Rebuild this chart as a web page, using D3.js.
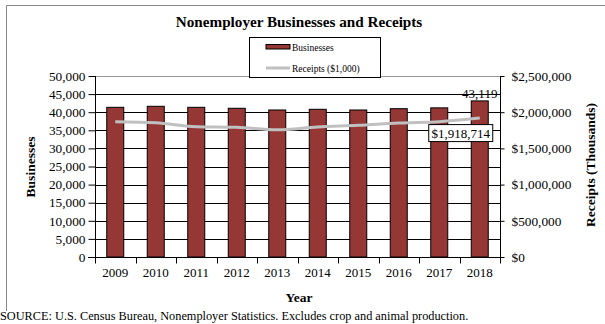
<!DOCTYPE html>
<html>
<head>
<meta charset="utf-8">
<script src="https://cdn.jsdelivr.net/npm/d3@7/dist/d3.min.js"></script>
<style>
  html, body { margin: 0; padding: 0; background: #fff; }
  svg { display: block; }
  text { font-family: "Liberation Serif", "Times New Roman", serif; fill: #000; }
</style>
</head>
<body>
<svg id="chart" width="605" height="324"></svg>
<script>
// Nonemployer businesses (count) and receipts ($1,000) by year
const years = ["2009", "2010", "2011", "2012", "2013", "2014", "2015", "2016", "2017", "2018"];
const businesses = [41350, 41630, 41350, 41080, 40610, 40800, 40610, 40970, 41200, 43119];
const receipts = [1868800, 1855000, 1800000, 1791000, 1758000, 1796000, 1819000, 1851000, 1869000, 1918714];
const businessTicks = [0, 5000, 10000, 15000, 20000, 25000, 30000, 35000, 40000, 45000, 50000];
const receiptTicks = [0, 500000, 1000000, 1500000, 2000000, 2500000];

const svg = d3.select("#chart");
const plot = { left: 95, right: 500, top: 76, bottom: 257 };

// Chart frame
svg.append("path")
  .attr("d", `M6.5,311 L6.5,5.5 L605,5.5`)
  .attr("fill", "none").attr("stroke", "#888").attr("stroke-width", 1);

const x = d3.scaleBand().domain(years).range([plot.left, plot.right]).paddingInner(0).paddingOuter(0);
const yL = d3.scaleLinear().domain([0, 50000]).range([plot.bottom, plot.top]);
const yR = d3.scaleLinear().domain([0, 2500000]).range([plot.bottom, plot.top]);

// Horizontal gridlines
svg.append("g").selectAll("line").data(businessTicks).join("line")
  .attr("x1", plot.left).attr("x2", plot.right)
  .attr("y1", d => Math.round(yL(d)) + 0.5).attr("y2", d => Math.round(yL(d)) + 0.5)
  .attr("stroke", (d) => d === 50000 ? "#999" : "#000").attr("stroke-width", 1);

// Right plot border
svg.append("line")
  .attr("x1", plot.right + 0.5).attr("x2", plot.right + 0.5)
  .attr("y1", plot.top).attr("y2", plot.bottom)
  .attr("stroke", "#999");

// Bars
const barW = 17;
svg.append("g").selectAll("rect").data(years).join("rect")
  .attr("x", (d) => x(d) + x.bandwidth() / 2 - barW / 2)
  .attr("width", barW)
  .attr("y", (d, i) => yL(businesses[i]))
  .attr("height", (d, i) => plot.bottom - yL(businesses[i]))
  .attr("fill", "#953735")
  .attr("stroke", "#000").attr("stroke-width", 1);

// Receipts line
const line = d3.line()
  .x((d, i) => x(years[i]) + x.bandwidth() / 2)
  .y(d => yR(d))
  .curve(d3.curveMonotoneX);
svg.append("path").datum(receipts)
  .attr("d", line)
  .attr("fill", "none").attr("stroke", "#c0c0c0").attr("stroke-width", 3);

// Left axis
const leftAxis = d3.axisLeft(yL).tickValues(businessTicks).tickSize(7).tickPadding(3)
  .tickFormat(d3.format(","));
const gL = svg.append("g").attr("transform", `translate(${plot.left + 0.5},0)`).call(leftAxis);
gL.select(".domain").attr("stroke", "#000").attr("d", `M0,${plot.top}V${plot.bottom}`);
gL.selectAll("text").attr("font-size", 13.3).attr("font-family", "Liberation Serif, serif");

// Right axis
const rightAxis = d3.axisRight(yR).tickValues(receiptTicks).tickSize(4).tickPadding(7)
  .tickFormat(d => "$" + d3.format(",")(d));
const gR = svg.append("g").attr("transform", `translate(${plot.right + 0.5},0)`).call(rightAxis);
gR.select(".domain").attr("stroke", "#000").attr("d", `M0,${plot.top}V${plot.bottom}`);
gR.selectAll("text").attr("font-size", 13.3).attr("font-family", "Liberation Serif, serif");

// Bottom axis with ticks between categories
const gB = svg.append("g").attr("transform", `translate(0,${plot.bottom + 0.5})`);
gB.append("line").attr("x1", plot.left - 7).attr("x2", plot.right + 4).attr("stroke", "#000");
const boundaries = years.map(d => x(d)).concat([plot.right]);
gB.selectAll("line.tk").data(boundaries).join("line").attr("class", "tk")
  .attr("x1", d => Math.round(d) + 0.5).attr("x2", d => Math.round(d) + 0.5)
  .attr("y1", 0).attr("y2", 6).attr("stroke", "#000");
gB.selectAll("text").data(years).join("text")
  .attr("x", d => x(d) + x.bandwidth() / 2)
  .attr("y", 19)
  .attr("text-anchor", "middle")
  .attr("font-size", 13)
  .text(d => d);

// Value labels for 2018
const last = years.length - 1;
const cxLast = x(years[last]) + x.bandwidth() / 2;
svg.append("text")
  .attr("x", cxLast).attr("y", yL(businesses[last]) - 3)
  .attr("text-anchor", "middle").attr("font-size", 13)
  .text(d3.format(",")(businesses[last]));

const rLabel = "$" + d3.format(",")(receipts[last]);
const boxCx = cxLast - 19, boxCy = yR(receipts[last]) + 15;
svg.append("rect")
  .attr("x", boxCx - 32).attr("y", boxCy - 8.5)
  .attr("width", 64).attr("height", 17)
  .attr("fill", "#fff").attr("stroke", "#000");
svg.append("text")
  .attr("x", boxCx).attr("y", boxCy + 4.5)
  .attr("text-anchor", "middle").attr("font-size", 13)
  .text(rLabel);

// Title
svg.append("text")
  .attr("x", 299).attr("y", 27)
  .attr("text-anchor", "middle").attr("font-size", 15.2).attr("font-weight", "bold")
  .text("Nonemployer Businesses and Receipts");

// Axis titles
svg.append("text")
  .attr("transform", "translate(35,167) rotate(-90)")
  .attr("text-anchor", "middle").attr("font-size", 13.5).attr("font-weight", "bold")
  .text("Businesses");
svg.append("text")
  .attr("transform", "translate(595,165) rotate(-90)")
  .attr("text-anchor", "middle").attr("font-size", 13.5).attr("font-weight", "bold")
  .text("Receipts (Thousands)");
svg.append("text")
  .attr("x", 299).attr("y", 302)
  .attr("text-anchor", "middle").attr("font-size", 13.5).attr("font-weight", "bold")
  .text("Year");

// Source note
svg.append("text")
  .attr("x", 0).attr("y", 320)
  .attr("font-size", 12.3)
  .text("SOURCE: U.S. Census Bureau, Nonemployer Statistics. Excludes crop and animal production.");

// Legend
const lg = svg.append("g");
lg.append("rect").attr("x", 249.5).attr("y", 37.5).attr("width", 131).attr("height", 40)
  .attr("fill", "#fff").attr("stroke", "#000");
lg.append("rect").attr("x", 266).attr("y", 44.5).attr("width", 24).attr("height", 4.5)
  .attr("fill", "#953735").attr("stroke", "#000");
lg.append("text").attr("x", 292).attr("y", 50.5).attr("font-size", 9.5).text("Businesses");
lg.append("line").attr("x1", 266).attr("x2", 290).attr("y1", 68).attr("y2", 68)
  .attr("stroke", "#c0c0c0").attr("stroke-width", 3);
lg.append("text").attr("x", 292).attr("y", 71.5).attr("font-size", 9.5).text("Receipts ($1,000)");
</script>
</body>
</html>
